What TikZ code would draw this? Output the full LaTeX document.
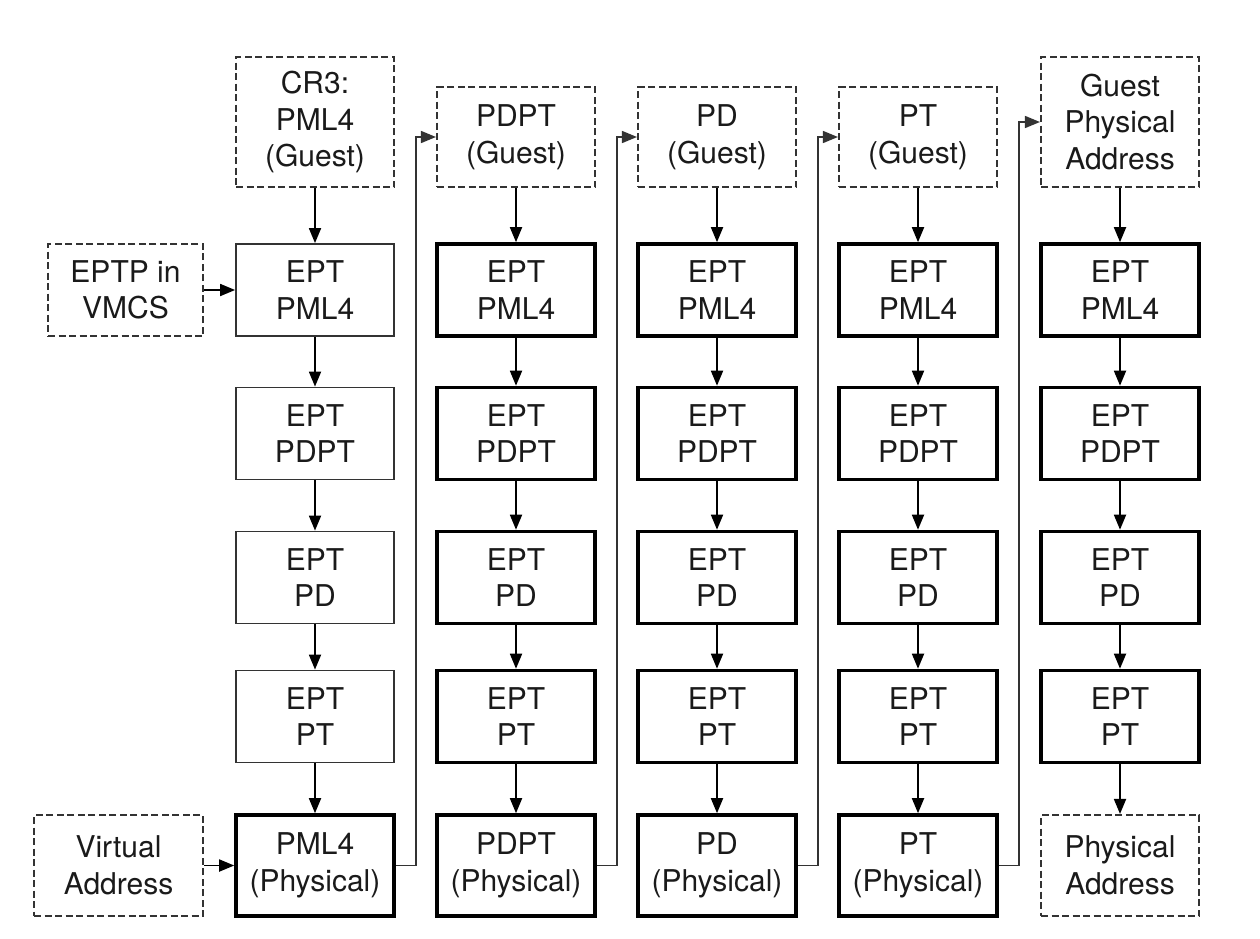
\documentclass[tikz,border=0pt]{standalone}
\usepackage{fontspec}
\setmainfont{TeX Gyre Heros}
\usetikzlibrary{arrows.meta}
\definecolor{ink}{HTML}{1A1A1A}
\definecolor{thinline}{HTML}{333333}
\definecolor{dashline}{HTML}{333333}
\definecolor{connline}{HTML}{333333}
\begin{document}
\begin{tikzpicture}[x=1pt,y=-1pt,
  every node/.style={font=\fontsize{30}{36.5}\selectfont, text=ink, align=center, inner sep=0pt},
  thinbox/.style={draw=thinline, line width=1.8pt, minimum width=158pt, minimum height=92pt},
  thickbox/.style={draw=black, line width=3.6pt, minimum width=158pt, minimum height=92pt},
  dashbox/.style={draw=dashline, dash pattern=on 7pt off 3.5pt, line width=2.1pt, minimum width=158pt, minimum height=100pt},
  flow/.style={draw=black, line width=1.8pt, -{Triangle[length=15pt,width=12pt]}},
  link/.style={draw=connline, line width=1.5pt, -{Triangle[length=15pt,width=12pt]}}
]
\useasboundingbox (0,0) rectangle (1260,938);
\fill[white] (0,0) rectangle (1260,938);

% guest (top) row
\node[dashbox, minimum height=130pt] (g1) at (315,122) {CR3:\\PML4\\(Guest)};
\node[dashbox] (g2) at (516,137) {PDPT\\(Guest)};
\node[dashbox] (g3) at (717,137) {PD\\(Guest)};
\node[dashbox] (g4) at (918,137) {PT\\(Guest)};
\node[dashbox, minimum height=130pt] (g5) at (1120,122) {Guest\\Physical\\Address};

% left inputs
\node[dashbox, minimum width=155pt, minimum height=92pt] (eptp) at (125.5,290) {EPTP in\\VMCS};
\node[dashbox, minimum width=169pt, minimum height=101pt] (va) at (118.5,865.5) {Virtual\\Address};

% EPT walk columns
\foreach \c/\x/\st in {1/315/thinbox, 2/516/thickbox, 3/717/thickbox, 4/918/thickbox, 5/1120/thickbox} {
  \node[\st] (a\c) at (\x,290) {EPT\\PML4};
  \node[\st] (b\c) at (\x,433.5) {EPT\\PDPT};
  \node[\st] (d\c) at (\x,577.5) {EPT\\PD};
  \node[\st] (t\c) at (\x,716.5) {EPT\\PT};
}

% physical row
\node[thickbox, minimum height=101pt] (p1) at (315,865.5) {PML4\\(Physical)};
\node[thickbox, minimum height=101pt] (p2) at (516,865.5) {PDPT\\(Physical)};
\node[thickbox, minimum height=101pt] (p3) at (717,865.5) {PD\\(Physical)};
\node[thickbox, minimum height=101pt] (p4) at (918,865.5) {PT\\(Physical)};
\node[dashbox, minimum height=101pt] (p5) at (1120,865.5) {Physical\\Address};

% vertical flows
\foreach \c in {1,...,5} {
  \draw[flow] (g\c) -- (a\c);
  \draw[flow] (a\c) -- (b\c);
  \draw[flow] (b\c) -- (d\c);
  \draw[flow] (d\c) -- (t\c);
  \draw[flow] (t\c) -- (p\c);
}

% inputs
\draw[flow] (eptp) -- (a1);
\draw[flow] (va) -- (p1);

% links from physical result to next guest table
\draw[link] (p1.east) -- ++(20,0) |- (g2.west);
\draw[link] (p2.east) -- ++(20,0) |- (g3.west);
\draw[link] (p3.east) -- ++(20,0) |- (g4.west);
\draw[link] (p4.east) -- ++(20,0) |- (g5.west);
\end{tikzpicture}
\end{document}
